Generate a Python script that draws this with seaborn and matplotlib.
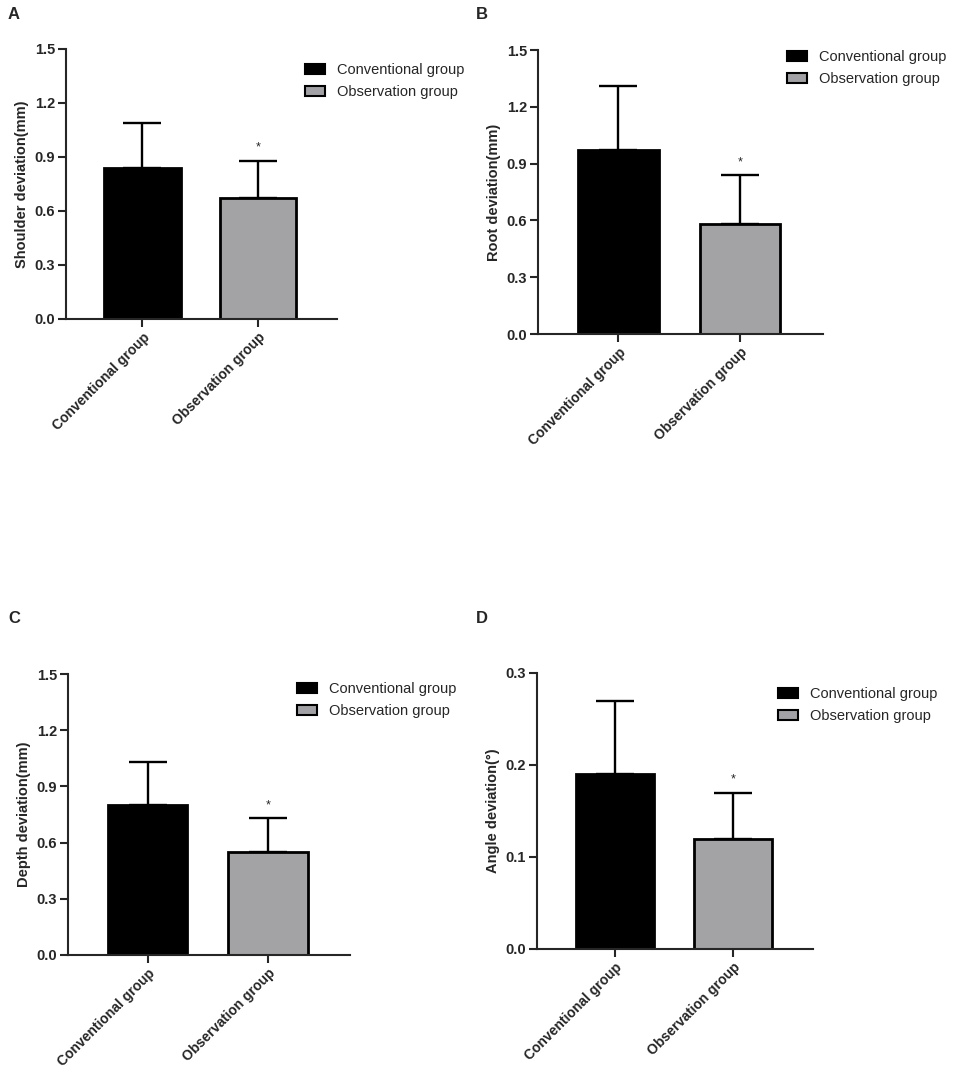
import matplotlib
matplotlib.use('Agg')
import matplotlib.pyplot as plt
from matplotlib.patches import Patch
import pandas as pd
import seaborn as sns

# Data (mean and upper SD bar)
groups = ['Conventional group', 'Observation group']
shoulder_mean = [0.84, 0.67]
shoulder_sd = [0.25, 0.21]
root_mean = [0.97, 0.58]
root_sd = [0.34, 0.26]
depth_mean = [0.80, 0.55]
depth_sd = [0.23, 0.18]
angle_mean = [0.19, 0.12]
angle_sd = [0.08, 0.05]

yticks_mm = [0.0, 0.3, 0.6, 0.9, 1.2, 1.5]
yticks_deg = [0.0, 0.1, 0.2, 0.3]

sns.set_style('ticks')
plt.rcParams['font.family'] = ['Liberation Sans', 'DejaVu Sans']

colors = {'Conventional group': '#000000', 'Observation group': '#a2a2a6'}

fig = plt.figure(figsize=(9.57, 10.8), dpi=100)
W, H = 957, 1080


def px_axes(left, top, right, bottom):
    return fig.add_axes([left / W, 1 - bottom / H, (right - left) / W, (bottom - top) / H])


def draw_panel(ax, means, sds, ylabel, yticks, fmt, legend_xy, letter, letter_xy):
    df = pd.DataFrame({'group': groups, 'value': means})
    sns.barplot(data=df, x='group', y='value', hue='group', palette=colors,
                order=groups, hue_order=groups, width=0.66, errorbar=None,
                edgecolor='black', linewidth=2, legend=False, ax=ax, zorder=2)
    ax.errorbar([0, 1], means, yerr=[[0, 0], sds], fmt='none', ecolor='black',
                elinewidth=1.7, capsize=14, capthick=1.7, zorder=1)
    # significance star over observation group
    ax.annotate('*', xy=(1, means[1] + sds[1]), xytext=(0, 5), textcoords='offset points',
                ha='center', va='bottom', fontsize=9)
    ax.set_xlim(-0.66, 1.68)
    ax.set_ylim(yticks[0], yticks[-1])
    ax.set_yticks(yticks)
    ax.set_yticklabels([fmt.format(t) for t in yticks], fontsize=10.5, fontweight='bold')
    ax.set_xticks([0, 1])
    ax.set_xticklabels(groups, rotation=45, ha='right', rotation_mode='anchor',
                       fontsize=10, fontweight='bold')
    ax.set_xlabel('')
    ax.set_ylabel(ylabel, fontsize=10.5, fontweight='bold', labelpad=4)
    sns.despine(ax=ax)
    for s in ['left', 'bottom']:
        ax.spines[s].set_linewidth(1.5)
    ax.tick_params(axis='both', direction='out', length=6, width=1.5, pad=2)
    handles = [Patch(facecolor=colors[g], edgecolor='black', linewidth=1.5, label=g) for g in groups]
    ax.legend(handles=handles, loc='upper left', bbox_to_anchor=(legend_xy[0] / W, 1 - legend_xy[1] / H),
              bbox_transform=fig.transFigure, frameon=False, fontsize=10.5,
              handlelength=1.4, handleheight=0.7, handletextpad=0.8, labelspacing=0.55,
              borderpad=0, borderaxespad=0)
    fig.text(letter_xy[0] / W, 1 - letter_xy[1] / H, letter, fontsize=12, fontweight='bold',
             ha='left', va='top')


ax_a = px_axes(66, 49, 337, 319)
draw_panel(ax_a, shoulder_mean, shoulder_sd, 'Shoulder deviation(mm)', yticks_mm, '{:.1f}',
           (305, 63), 'A', (8, 7))

ax_b = px_axes(538, 50, 823, 334)
draw_panel(ax_b, root_mean, root_sd, 'Root deviation(mm)', yticks_mm, '{:.1f}',
           (787, 50), 'B', (476, 7))

ax_c = px_axes(68, 674, 350, 955)
draw_panel(ax_c, depth_mean, depth_sd, 'Depth deviation(mm)', yticks_mm, '{:.1f}',
           (297, 682), 'C', (8, 611))

ax_d = px_axes(537, 673, 813, 949)
draw_panel(ax_d, angle_mean, angle_sd, 'Angle deviation(°)', yticks_deg, '{:.1f}',
           (778, 687), 'D', (476, 611))

fig.savefig('out.png', dpi=100)
